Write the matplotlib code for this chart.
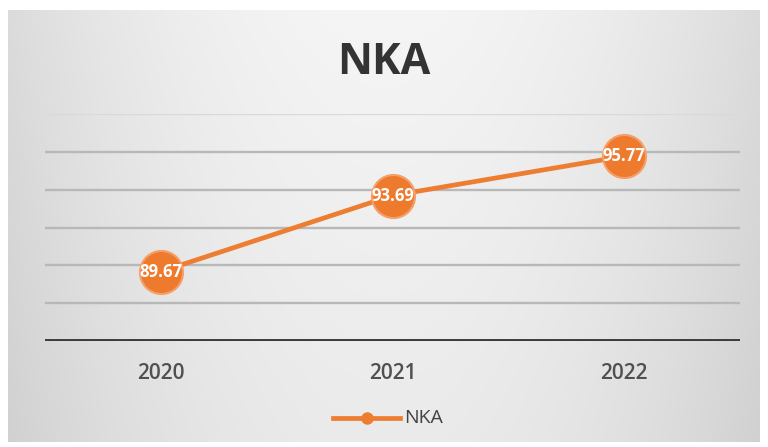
import numpy as np
import matplotlib.pyplot as plt

years = ["2020", "2021", "2022"]
nka = [89.67, 93.69, 95.77]
labels = ["89.67", "93.69", "95.77"]
y_min, y_max, y_step = 86, 98, 2

W, H = 768, 447
fig = plt.figure(figsize=(W / 100, H / 100), dpi=100)
fig.patch.set_facecolor("white")

# background panel with soft gradient
bg = fig.add_axes([8 / W, 1 - 442 / H, 752 / W, 432 / H])
xx = np.linspace(-1, 1, 300)
yy = np.linspace(-1, 1, 200)
X, Y = np.meshgrid(xx, yy)
G = 0.96 - 0.10 * (X ** 2) - 0.04 * (Y + 1) / 2
bg.imshow(np.dstack([G, G, G]), aspect="auto", extent=[0, 1, 0, 1])
bg.set_xlim(0, 1)
bg.set_ylim(0, 1)
bg.axis("off")

ax = fig.add_axes([45 / W, 1 - 341 / H, 695 / W, 227 / H])
ax.set_facecolor("none")
x = np.arange(len(years))
ax.set_xlim(-0.5, len(years) - 0.5)
ax.set_ylim(y_min, y_max)
for g in np.arange(y_min + y_step, y_max + 0.01, y_step):
    c = "#d9d9d9" if g == y_max else "#b8b8b8"
    ax.axhline(g, color=c, lw=1.7, zorder=1)
ax.axhline(y_min, color="#3a3a3a", lw=2.8, zorder=2)

ax.plot(x, nka, color="#ED7D31", lw=3.4, marker="o", markersize=31,
        markerfacecolor="#EE7A2E", markeredgecolor="#F5A06A", markeredgewidth=1.5,
        zorder=3, label="NKA")
for xi, v, lab in zip(x, nka, labels):
    ax.text(xi, v, lab, ha="center", va="center", color="white",
            fontsize=12, fontweight="bold", family="Open Sans", zorder=4)

ax.set_xticks(x)
ax.set_xticklabels(years, fontsize=15, color="#505050", family="Open Sans",
                   fontweight="semibold")
ax.tick_params(axis="x", length=0, pad=16)
ax.set_yticks([])
for s in ax.spines.values():
    s.set_visible(False)

fig.text(0.5, 1 - 62 / H, "NKA", ha="center", va="center", fontsize=31,
         fontweight="bold", color="#333333", family="Open Sans")

# legend
lx0, lx1, ly = 333 / W, 400 / W, 1 - 418 / H
fig.lines.append(plt.Line2D([lx0, lx1], [ly, ly], transform=fig.transFigure,
                            color="#ED7D31", lw=3.4))
fig.lines.append(plt.Line2D([(lx0 + lx1) / 2], [ly], transform=fig.transFigure,
                            color="#ED7D31", marker="o", markersize=8))
fig.text(404 / W, ly, "NKA", ha="left", va="center", fontsize=14,
         color="#444444", family="Open Sans")

fig.savefig("out.png", dpi=100)
